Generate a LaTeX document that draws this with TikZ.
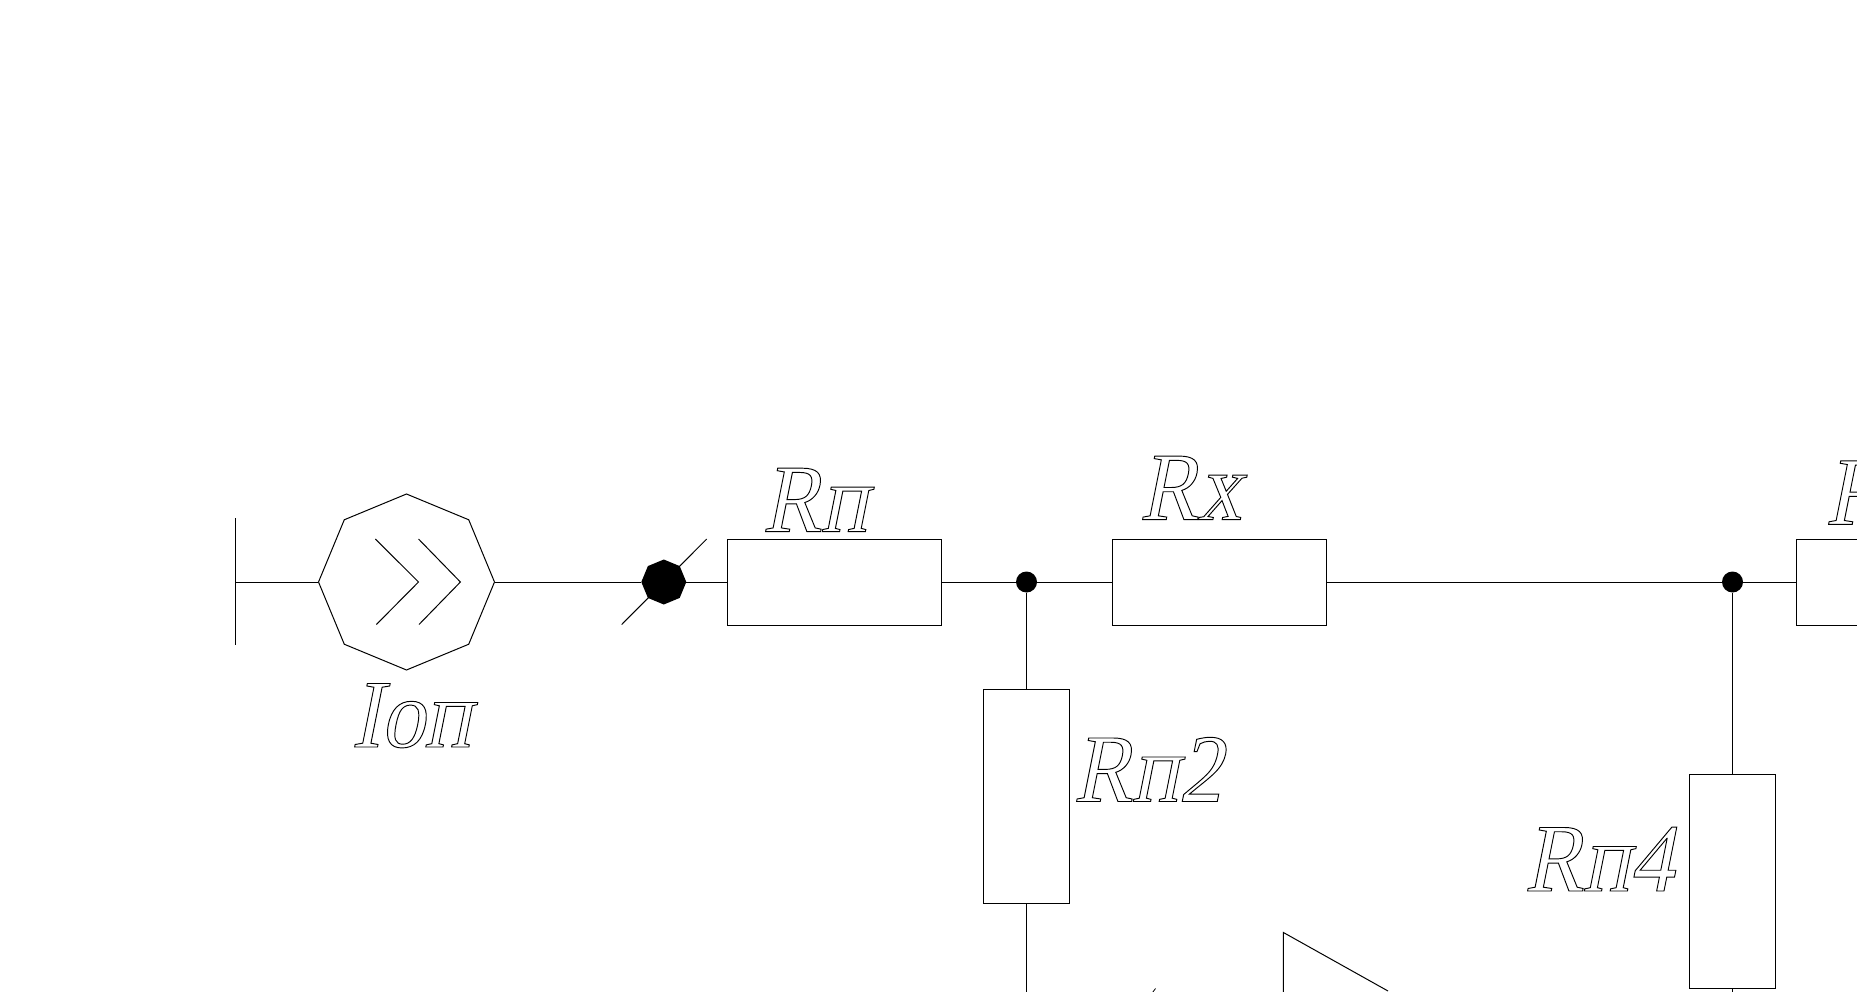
\documentclass[tikz,border=0pt]{standalone}
\usepackage{fontspec}
\usetikzlibrary{shapes.geometric}
\newfontfamily\cadfont[FakeSlant=0.2,FakeStretch=0.9]{Liberation Serif}
\newcommand{\hollow}[1]{\special{pdf:code 1 Tr 0.95 w}#1\special{pdf:code 0 Tr 1 w}}
\tikzset{
  wire/.style={line width=1pt,black},
  res/.style={draw,line width=1pt,fill=white,inner sep=0pt,outer sep=0pt,rectangle},
  hres/.style={res,minimum width=214pt,minimum height=86pt},
  vres/.style={res,minimum width=85.5pt,minimum height=214pt},
  junction/.style={circle,fill=black,inner sep=0pt,outer sep=0pt,minimum size=21pt},
  bigdot/.style={regular polygon,regular polygon sides=8,shape border rotate=22.5,fill=black,inner sep=0pt,outer sep=0pt,minimum size=45pt},
  source/.style={regular polygon,regular polygon sides=8,shape border rotate=22.5,draw,line width=1pt,inner sep=0pt,outer sep=0pt,minimum size=176pt},
  lab/.style={anchor=base west,inner sep=0pt,outer sep=0pt,font=\fontsize{97pt}{97pt}\selectfont\cadfont}
}
\begin{document}
\begin{tikzpicture}[x=1pt,y=-1pt]
\path[use as bounding box,clip] (0,0) rectangle (1857,992);
\fill[white] (0,0) rectangle (1857,992);
% ground bar
\coordinate (bartop) at (235.4,518);
\coordinate (barbot) at (235.4,645);
\coordinate (barmid) at (235.4,582);
\draw[wire] (bartop) -- (barbot);
% source
\node[source] (src) at (406.5,582) {};
\draw[wire] (barmid) -- (src.west);
\coordinate (c1a) at (375.4,539);
\coordinate (c1b) at (418.5,582);
\coordinate (c1c) at (376.4,624.5);
\coordinate (c2a) at (418.5,539);
\coordinate (c2b) at (460.4,582);
\coordinate (c2c) at (419,624.5);
\draw[wire] (c1a) -- (c1b) -- (c1c);
\draw[wire] (c2a) -- (c2b) -- (c2c);
% slashed dot
\node[bigdot] (sw) at (663.8,582) {};
\coordinate (slashA) at (621.7,624.5);
\coordinate (slashB) at (706.7,539);
\draw[wire] (slashA) -- (slashB);
% resistors
\node[hres] (Rp) at (834.4,582) {};
\node[hres] (Rx) at (1219.5,582) {};
\node[hres,anchor=west] (Rr) at (1796.5,582) {};
\node[vres] (Rp2) at (1026.5,796) {};
\node[vres] (Rp4) at (1732.5,881.5) {};
\node[junction] (j1) at (1026.5,582) {};
\node[junction] (j2) at (1732.5,582) {};
\coordinate (b1) at (1026.5,992);
\coordinate (b2) at (1732.5,992);
% wires
\draw[wire] (src.east) -- (sw);
\draw[wire] (sw) -- (Rp.west);
\draw[wire] (Rp.east) -- (j1);
\draw[wire] (j1) -- (Rx.west);
\draw[wire] (Rx.east) -- (j2);
\draw[wire] (j2) -- (Rr.west);
\draw[wire] (j1) -- (Rp2.north);
\draw[wire] (j2) -- (Rp4.north);
\draw[wire] (Rp2.south) -- (b1);
\draw[wire] (Rp4.south) -- (b2);
% partial shapes at the lower edge
\coordinate (triA) at (1283.4,992);
\coordinate (triB) at (1283.4,932.5);
\coordinate (triC) at (1388,991);
\draw[wire] (triA) -- (triB) -- (triC);
\coordinate (tickA) at (1155.5,988.5);
\coordinate (tickB) at (1152.5,992.5);
\draw[line width=0.8pt] (tickA) -- (tickB);
% labels
\node[lab] (lRp) at (762.5,531.7) {\hollow{Rп}};
\node[lab] (lRx) at (1139.5,519.6) {\hollow{Rх}};
\node[lab] (lRp2) at (1073.5,801.5) {\hollow{Rп2}};
\node[lab] (lRp4) at (1524.5,891) {\hollow{Rп4}};
\node[lab] (lI) at (351.5,747) {\hollow{Iоп}};
\node[lab] (lRr) at (1825.5,524.3) {\hollow{R}};
\end{tikzpicture}
\end{document}
